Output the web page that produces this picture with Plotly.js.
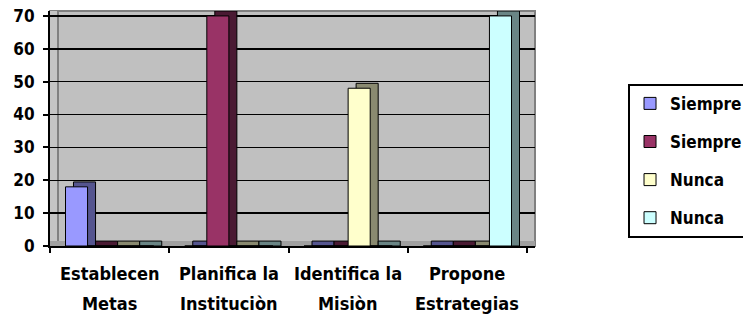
<!DOCTYPE html>
<html>
<head>
<meta charset="utf-8">
<script src="https://cdn.plot.ly/plotly-3.0.1.min.js"></script>
<style>html,body{margin:0;padding:0;background:#fff;}#chart{width:743px;height:315px;}</style>
</head>
<body>
<div id="chart"></div>
<script>
// ---- data ----
const categories = ["Establecen Metas", "Planifica la Instituciòn", "Identifica la Misiòn", "Propone Estrategias"];
const labelLine1 = ["Establecen", "Planifica la", "Identifica la", "Propone"];
const labelLine2 = ["Metas", "Instituciòn", "Misiòn", "Estrategias"];
const seriesNames = ["Siempre", "Siempre", "Nunca", "Nunca"];
const siempreA = [18, 0, 0, 0];
const siempreB = [0, 70, 0, 0];
const nuncaA = [0, 0, 48, 0];
const nuncaB = [0, 0, 0, 70];
const yTicks = [0, 10, 20, 30, 40, 50, 60, 70];

// ---- styling ----
const seriesValues = [siempreA, siempreB, nuncaA, nuncaB];
const frontColors = ["#9999FF", "#993366", "#FFFFCC", "#CCFFFF"];
const sideColors = ["#55558F", "#4A1A33", "#8A8A70", "#6A8585"];
const FONT = "'DejaVu Sans Condensed', 'DejaVu Sans', sans-serif";
const barW = 0.185;
const depthX = 0.067;
const depthY = 1.5;

const traces = [];
seriesValues.forEach((vals, i) => {
  traces.push({
    type: "bar", x: categories, y: vals.map(v => v + depthY), base: 0,
    width: barW, offset: -2 * barW + i * barW + depthX,
    marker: {color: sideColors[i], line: {color: "#000", width: 1}},
    showlegend: false, hoverinfo: "skip"
  });
});
seriesValues.forEach((vals, i) => {
  traces.push({
    type: "bar", x: categories, y: vals, name: seriesNames[i],
    legendgroup: "g" + i,
    width: barW, offset: -2 * barW + i * barW,
    marker: {color: frontColors[i], line: {color: "#000", width: 1}}
  });
});

const lblFont = {family: FONT, size: 18, color: "#000", weight: "bold"};
const tickFont = {family: FONT, size: 17, color: "#000", weight: "bold"};
const legFont = {family: FONT, size: 17, color: "#000", weight: "bold"};
const annotations = [];
categories.forEach((c, i) => {
  annotations.push({x: c, xref: "x", y: 0, yref: "paper", yanchor: "middle", yshift: -27,
    text: labelLine1[i], showarrow: false, font: lblFont});
  annotations.push({x: c, xref: "x", y: 0, yref: "paper", yanchor: "middle", yshift: -57,
    text: labelLine2[i], showarrow: false, font: lblFont});
});

const layout = {
  width: 743, height: 315,
  margin: {l: 50, r: 208, t: 11, b: 69, autoexpand: false},
  paper_bgcolor: "#fff", plot_bgcolor: "#C0C0C0",
  barmode: "overlay",
  font: lblFont,
  xaxis: {
    type: "category", range: [-0.5, 3.567], showticklabels: false,
    tickson: "boundaries", ticks: "outside", ticklen: 5, tickcolor: "#000", tickwidth: 2,
    showgrid: false, showline: true, linecolor: "#000", linewidth: 2, zeroline: false, fixedrange: true
  },
  yaxis: {
    range: [0, 71.5], tickvals: yTicks, ticks: "outside", ticklen: 5, tickcolor: "#000", tickwidth: 2,
    ticklabelstandoff: 5,
    showgrid: true, gridcolor: "#000", gridwidth: 1.5,
    showline: true, linecolor: "#000", linewidth: 2, zeroline: false,
    tickfont: tickFont, fixedrange: true
  },
  shapes: [
    {type: "rect", xref: "paper", yref: "paper", x0: 0, x1: 1, y0: 0, y1: 1,
      line: {color: "#808080", width: 2}, layer: "below"},
    {type: "rect", xref: "paper", yref: "paper", x0: 0, x1: 0.0165, y0: 0, y1: 1,
      fillcolor: "#C4C4C4", line: {width: 0}, layer: "between"},
    {type: "line", xref: "paper", yref: "paper", x0: 0.0165, x1: 0.0165, y0: 0.02, y1: 1,
      line: {color: "#808080", width: 2}, layer: "between"},
    {type: "rect", xref: "paper", yref: "paper", x0: 0, x1: 1, y0: 0, y1: 0.021,
      fillcolor: "#A0A0A0", line: {width: 0}, layer: "between"}
  ],
  legend: {
    x: 1.1918, xanchor: "left", y: 0.69, yanchor: "top",
    bgcolor: "#fff", bordercolor: "#000", borderwidth: 2,
    font: legFont,
    tracegroupgap: 13, itemwidth: 30, traceorder: "grouped"
  },
  annotations: annotations,
  showlegend: true
};

Plotly.newPlot("chart", traces, layout, {displayModeBar: false, staticPlot: true});
</script>
</body>
</html>
